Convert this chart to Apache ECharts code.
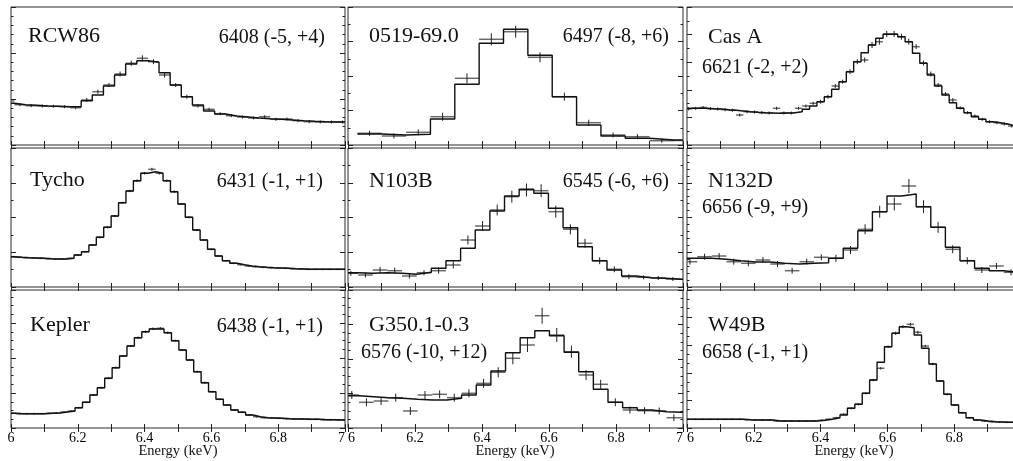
<!DOCTYPE html>
<html>
<head>
<meta charset="utf-8">
<script src="https://cdn.jsdelivr.net/npm/echarts@6/dist/echarts.min.js"></script>
<style>
html,body{margin:0;padding:0;background:#fff;}
#chart{width:1013px;height:461px;}
</style>
</head>
<body>
<div id="chart"></div>
<script>
// ---------------- data ----------------
const energyTickLabels = ['6', '6.2', '6.4', '6.6', '6.8', '7'];
const panelNames = ['RCW86', '0519-69.0', 'Cas A', 'Tycho', 'N103B', 'N132D', 'Kepler', 'G350.1-0.3', 'W49B'];
const panelCentroids = ['6408 (-5, +4)', '6497 (-8, +6)', '6621 (-2, +2)', '6431 (-1, +1)', '6545 (-6, +6)',
  '6656 (-9, +9)', '6438 (-1, +1)', '6576 (-10, +12)', '6658 (-1, +1)'];
// first bin lower edge (keV) and bin width (keV)
const binStart = [5.977, 6.028, 5.993, 5.989, 5.9865, 5.987, 5.992, 5.9895, 5.9918];
const binWidth = [0.0333, 0.0727, 0.022, 0.0222, 0.0437, 0.0437, 0.0222, 0.0437, 0.0222];

const rcw86Model = [41.7, 40.3, 39.7, 39, 38.7, 38.3, 38.3, 44.3, 50, 59, 70, 81, 84.3, 82.7, 72.3, 60, 48.3, 40, 34, 31, 29, 28, 27, 26.3, 25.7, 25, 24.3, 23.7, 23.3, 23, 23];
const rcw86Data = [44, 40.3, 39.3, 39, 38.7, 38.3, 37.3, 45, 53.3, 60, 71, 81.7, 86.7, 83.3, 70, 60, 48.3, 39, 35.7, 31.3, 29.3, 28, 27, 28.3, 25.7, 26, 24.3, 23.3, 23, 23, 23];
const rcw86Err = [2, 1.5, 1.5, 1.5, 1.5, 1.5, 1.5, 2, 2, 2, 2.5, 2.5, 3, 2.5, 2.5, 2, 2, 1.5, 1.5, 1.5, 1.5, 1.5, 1.5, 1.5, 1.5, 1.5, 1.5, 1.5, 1.5, 1.5, 1.5];

const n0519Model = [11, 10, 10.7, 26, 60.7, 101.7, 115.7, 89.7, 48.3, 20, 9, 6.7, 5, 5];
const n0519Data = [11.7, 9, 12.7, 28.3, 66.7, 105.7, 113.3, 87.7, 48.3, 22.3, 10, 8.3, 4.3, 4.5];
const n0519Err = [2.5, 2.5, 3, 4, 5, 6, 6, 5, 4, 3, 2.5, 2.5, 2, 2];

const casAModel = [36.7, 36.7, 36.7, 36.3, 36, 35.3, 34.7, 34, 33.3, 32.7, 32.3, 32, 31.7, 32, 32.3, 33.3, 35.7, 39, 43.3, 48.3, 55.7, 63.3, 73.3, 83.3, 92.3, 100, 106.7, 110.7, 110.7, 108.3, 103.3, 91.7, 81.7, 70, 59, 50, 42.3, 36.7, 32.3, 28.3, 25.7, 23.3, 22.3, 21, 19, 18.3];
const casAData = [36, 36.7, 37.5, 36.3, 36, 35.3, 34.7, 30, 33.3, 33, 32.3, 32, 36.7, 32, 32, 36.7, 39, 41.7, 43.3, 48.3, 59, 63.3, 73.3, 83.3, 85, 100, 103.3, 111, 111, 108.3, 103.3, 98.3, 82, 71, 60, 51, 45, 37, 32.3, 29, 25.7, 23.3, 22.3, 21, 19, 18.3];
const casAErr = [1.5, 1.5, 1.5, 1.5, 1.5, 1.5, 1.5, 1.5, 1.5, 1.5, 1.5, 1.5, 1.5, 1.5, 1.5, 1.5, 1.5, 1.5, 2, 2, 2, 2, 2.5, 2.5, 2.5, 3, 3, 3, 3, 3, 3, 2.5, 2.5, 2.5, 2, 2, 2, 1.5, 1.5, 1.5, 1.5, 1.5, 1.5, 1.5, 1.5, 1.5];

const tychoModel = [30.3, 29.7, 29.3, 29, 28.7, 28.3, 28, 28, 28.7, 32, 35.3, 42, 49.7, 59.7, 71, 84.3, 96, 106.3, 113.7, 115.3, 113.7, 106.3, 95.3, 83, 69.7, 57, 47, 37.7, 31, 26.3, 23.7, 22.3, 21, 20.3, 19.7, 19.3, 19, 18.7, 18.3, 18, 17.7, 17.7, 17.7, 17.7, 17.7, 17.7];
const tychoData = [30.3, 29.7, 29.3, 29, 28.7, 28.3, 28, 28, 28.7, 32, 35.3, 42, 49.7, 59.7, 71, 84.3, 96, 106.3, 113.7, 117.7, 113.7, 106.3, 95.3, 83, 69.7, 57, 47, 37.7, 31, 26.3, 23.7, 22.3, 21, 20.3, 19.7, 19.3, 19, 18.7, 18.3, 18, 17.7, 17.7, 17.7, 17.7, 17.7, 17.7];
const tychoErr = [0.8, 0.8, 0.8, 0.8, 0.8, 0.8, 0.8, 0.8, 0.8, 0.8, 0.8, 1, 1, 1, 1, 1, 1.2, 1.2, 1.2, 1.5, 1.2, 1.2, 1.2, 1, 1, 1, 1, 1, 0.8, 0.8, 0.8, 0.8, 0.8, 0.8, 0.8, 0.8, 0.8, 0.8, 0.8, 0.8, 0.8, 0.8, 0.8, 0.8, 0.8, 0.8];

const n103bModel = [14.3, 13.7, 14.3, 13.7, 12.7, 14.7, 18.7, 26.3, 38.7, 57, 76, 91, 97.7, 93.7, 78.7, 59.3, 40.3, 26.3, 17, 11, 9.3, 8.7, 7.7, 7.7];
const n103bData = [13.7, 12, 17, 16.3, 11, 14.3, 16.3, 22, 47, 61, 77, 90.3, 97, 96.3, 75.3, 57.7, 43.7, 26.3, 17.7, 10.3, 9.7, 9, 8, 7.7];
const n103bErr = [2.5, 2.5, 3, 3, 2.5, 2.5, 3, 3.5, 4.5, 5, 5.5, 6, 6.5, 6.5, 6, 5, 4.5, 3.5, 3, 2.5, 2, 2, 2, 2];

const n132dModel = [28.7, 28.7, 27.7, 26.3, 25, 25, 23.7, 23, 23.7, 24.3, 28.7, 38.7, 56.3, 75.3, 91, 93, 80.3, 59.7, 39.7, 26.3, 18.7, 16.3, 14.7, 14.7];
const n132dData = [25.3, 30.3, 31, 25.3, 23.7, 27, 23, 16.3, 25.3, 29.7, 28.7, 37, 57.7, 75.3, 83, 101, 80.3, 59.7, 37.7, 26.3, 17, 21, 14.7, 14.7];
const n132dErr = [3, 3, 3, 3, 3, 3, 3, 3, 3, 3, 3.5, 4, 5, 6, 6.5, 7, 6.5, 5.5, 4, 3.5, 3, 3, 3, 3];

const keplerModel = [14.7, 14.3, 14.3, 14.3, 14.3, 14.7, 15, 16, 17, 20.3, 25.7, 33, 40.3, 49.7, 60.3, 72, 82, 90.3, 96.3, 99, 99, 95.3, 87.3, 78, 68, 56.3, 45.3, 36.3, 28.7, 23, 18, 15.7, 13, 11.3, 10.3, 10, 9.7, 9.3, 9, 9, 8.7, 8.7, 8.3, 8.3, 8, 8];
const keplerData = [14.7, 14.3, 14.3, 14.3, 14.3, 14.7, 15, 16, 17, 20.3, 25.7, 33, 40.3, 49.7, 60.3, 72, 82, 90.3, 96.3, 99.3, 99.7, 95.3, 87.3, 78, 68, 56.3, 45.3, 36.3, 28.7, 23, 18, 15.7, 13, 11.3, 10.3, 10, 9.7, 9.3, 9, 9, 8.7, 8.7, 8.3, 8.3, 8, 8];
const keplerErr = [0.8, 0.8, 0.8, 0.8, 0.8, 0.8, 0.8, 0.8, 0.8, 0.8, 0.8, 0.8, 1, 1, 1, 1, 1, 1.2, 1.2, 1.2, 1.2, 1.2, 1, 1, 1, 1, 1, 0.8, 0.8, 0.8, 0.8, 0.8, 0.8, 0.8, 0.8, 0.8, 0.8, 0.8, 0.8, 0.8, 0.8, 0.8, 0.8, 0.8, 0.8, 0.8];

const g350Model = [32.3, 31.3, 30.3, 29.7, 28.7, 28, 28, 29.7, 33, 43, 57, 75.3, 90.3, 97.3, 92.3, 75.7, 56.3, 38.7, 25.7, 20.3, 18, 16.3, 15.7, 15.7];
const g350Data = [33, 25.7, 27, 30.3, 17, 33, 33.7, 30.3, 34.7, 44.7, 55.7, 69.7, 83, 112.3, 93, 76.3, 53, 43.7, 25.7, 18, 17.3, 17, 10.3, 10.3];
const g350Err = [4, 4, 4, 4, 4, 4, 4, 4, 4, 4.5, 5, 6, 7, 8, 7, 6, 5, 4.5, 4, 3.5, 3.5, 3.5, 3.5, 3.5];

const w49bModel = [8.7, 8.7, 8.7, 8.7, 8.7, 8.7, 8.7, 8.7, 8.3, 8, 8, 8, 7, 7, 7, 7, 7, 7, 7.7, 8.7, 10.3, 13, 19.7, 23.7, 34.7, 48, 65.7, 81.3, 94.7, 101.3, 100.3, 93, 79.7, 64, 47, 33.7, 23, 15.3, 10.3, 8, 7, 6.3, 6, 5.7, 5.7, 5.3];
const w49bData = [8.7, 8.7, 8.7, 8.7, 8.7, 8.7, 8.7, 8.7, 8.3, 8, 8, 8, 7, 7, 7, 7, 7, 7, 7.7, 8.7, 10.3, 13.7, 19.7, 23.7, 34.7, 48, 59.7, 81.3, 94.7, 101.3, 103.7, 95.7, 82, 64, 47, 33.7, 23, 15.3, 10.3, 8, 7, 6.3, 6, 5.7, 5.7, 5.3];
const w49bErr = [0.8, 0.8, 0.8, 0.8, 0.8, 0.8, 0.8, 0.8, 0.8, 0.8, 0.8, 0.8, 0.8, 0.8, 0.8, 0.8, 0.8, 0.8, 0.8, 0.8, 0.8, 1, 1, 1, 1, 1.2, 1.2, 1.2, 1.5, 1.5, 1.5, 1.5, 1.2, 1.2, 1, 1, 1, 0.8, 0.8, 0.8, 0.8, 0.8, 0.8, 0.8, 0.8, 0.8];

const modelSets = [rcw86Model, n0519Model, casAModel, tychoModel, n103bModel, n132dModel, keplerModel, g350Model, w49bModel];
const dataSets = [rcw86Data, n0519Data, casAData, tychoData, n103bData, n132dData, keplerData, g350Data, w49bData];
const errSets = [rcw86Err, n0519Err, casAErr, tychoErr, n103bErr, n132dErr, keplerErr, g350Err, w49bErr];

// ---------------- layout ----------------
const colLeft = [11, 348, 687], colWidth = [334, 335, 334];
const rowTop = [7, 148, 290], rowHeight = [138, 139, 138];
const yInterval = [46, 34.5, 27.6, 34.75, 34.75, 34.75, 35, 34.5, 27.6];
const yMinorSplit = [5, 2, 2, 2, 2, 5, 4, 4, 3];
const nameLayout = [[28, 36, 'left'], [369, 36.5, 'left'], [708, 37, 'left'], [30, 180, 'left'], [369, 181, 'left'],
  [708, 181, 'left'], [30, 325, 'left'], [369, 325, 'left'], [708, 325, 'left']];
const valueLayout = [[325, 38, 'right'], [669, 37, 'right'], [702, 68, 'left'], [323, 182, 'right'], [669, 182, 'right'],
  [702, 208, 'left'], [323, 327, 'right'], [361, 353, 'left'], [702, 353, 'left']];
const FONT = '"Liberation Serif", "Times New Roman", serif';

const grids = [], xAxes = [], yAxes = [], series = [], graphics = [];

function renderCross(params, api) {
  const e0 = api.value(0), e1 = api.value(1);
  const x0 = Math.max(6, e0), x1 = Math.min(7, e1);
  if (x1 <= x0) return null;
  const y = api.value(2), e = api.value(3);
  const xc = (e0 + e1) / 2;
  const a = api.coord([x0, y]), b = api.coord([x1, y]);
  const c = api.coord([xc, y + e]), d = api.coord([xc, y - e]);
  const children = [
    {type: 'line', shape: {x1: a[0], y1: a[1], x2: b[0], y2: b[1]}, style: {stroke: '#6a6a6a', lineWidth: 1.5}}
  ];
  if (xc >= 6 && xc <= 7) {
    children.push({type: 'line', shape: {x1: c[0], y1: c[1], x2: d[0], y2: d[1]}, style: {stroke: '#222', lineWidth: 1}});
  }
  return {type: 'group', children: children};
}

for (let p = 0; p < 9; p++) {
  const r = Math.floor(p / 3), c = p % 3;
  const H = rowHeight[r];
  grids.push({left: colLeft[c], top: rowTop[r], width: colWidth[c], height: H,
    show: true, borderColor: '#2a2a2a', borderWidth: 1, backgroundColor: 'transparent',
    containLabel: false, outerBoundsMode: 'none'});
  const bottomRow = r === 2;
  const tickCommon = {show: true, inside: true, length: 4, lineStyle: {color: '#222', width: 1}};
  xAxes.push({
    type: 'value', gridIndex: p, position: 'bottom', min: 6, max: 7, interval: 0.2,
    axisLine: {show: false}, splitLine: {show: false},
    axisTick: tickCommon,
    minorTick: {show: true, splitNumber: 2, length: 4, lineStyle: {color: '#222', width: 1}},
    axisLabel: {
      show: bottomRow, margin: 3, color: '#000', fontFamily: FONT, fontSize: 14,
      alignMinLabel: c === 0 ? 'center' : 'left',
      alignMaxLabel: c === 2 ? 'center' : 'right',
      formatter: function (v) {
        const i = Math.round((v - 6) / 0.2);
        return energyTickLabels[i] !== undefined ? energyTickLabels[i] : '';
      }
    }
  });
  xAxes.push({
    type: 'value', gridIndex: p, position: 'top', min: 6, max: 7, interval: 0.2,
    axisLine: {show: false}, splitLine: {show: false}, axisLabel: {show: false},
    axisTick: tickCommon,
    minorTick: {show: true, splitNumber: 2, length: 4, lineStyle: {color: '#222', width: 1}}
  });
  const yCommon = {
    type: 'value', gridIndex: p, min: 0, max: H, interval: yInterval[p],
    axisLine: {show: false}, splitLine: {show: false}, axisLabel: {show: false},
    axisTick: {show: true, inside: true, length: 5, lineStyle: {color: '#222', width: 1}},
    minorTick: {show: true, splitNumber: yMinorSplit[p], length: 2.5, lineStyle: {color: '#222', width: 1}}
  };
  yAxes.push(Object.assign({position: 'left'}, yCommon));
  yAxes.push(Object.assign({position: 'right'}, yCommon));

  const model = modelSets[p], obs = dataSets[p], err = errSets[p];
  const crossData = [], stepData = [];
  for (let i = 0; i < model.length; i++) {
    const e0 = binStart[p] + i * binWidth[p];
    const e1 = e0 + binWidth[p];
    crossData.push([e0, e1, obs[i], err[i]]);
    const lo = Math.max(6, e0), hi = Math.min(7, e1);
    if (hi > lo) {
      stepData.push([lo, model[i]]);
      stepData.push([hi, model[i]]);
    }
  }
  series.push({
    type: 'custom', xAxisIndex: 2 * p, yAxisIndex: 2 * p, renderItem: renderCross,
    data: crossData, encode: {x: [0, 1], y: 2}, clip: true, silent: true, z: 2, animation: false
  });
  series.push({
    type: 'line', xAxisIndex: 2 * p, yAxisIndex: 2 * p, data: stepData, showSymbol: false, symbol: 'none',
    lineStyle: {color: '#111', width: 1.4}, clip: true, silent: true, z: 3, animation: false
  });

  graphics.push({
    type: 'text', x: nameLayout[p][0], y: nameLayout[p][1], silent: true, z: 10,
    style: {text: panelNames[p], font: '22px ' + FONT, fill: '#111',
      textAlign: nameLayout[p][2], textVerticalAlign: 'middle', align: nameLayout[p][2], verticalAlign: 'middle'}
  });
  graphics.push({
    type: 'text', x: valueLayout[p][0], y: valueLayout[p][1], silent: true, z: 10,
    style: {text: panelCentroids[p], font: '20px ' + FONT, fill: '#111',
      textAlign: valueLayout[p][2], textVerticalAlign: 'middle', align: valueLayout[p][2], verticalAlign: 'middle'}
  });
}

const axisNameX = [178, 515, 854];
for (let c = 0; c < 3; c++) {
  graphics.push({
    type: 'text', x: axisNameX[c], y: 451, silent: true,
    style: {text: 'Energy (keV)', font: '14.5px ' + FONT, fill: '#111',
      textAlign: 'center', textVerticalAlign: 'middle', align: 'center', verticalAlign: 'middle'}
  });
}

const chart = echarts.init(document.getElementById('chart'), null, {renderer: 'canvas'});
chart.setOption({
  backgroundColor: '#fff',
  animation: false,
  grid: grids,
  xAxis: xAxes,
  yAxis: yAxes,
  series: series,
  graphic: graphics
});
</script>
</body>
</html>
